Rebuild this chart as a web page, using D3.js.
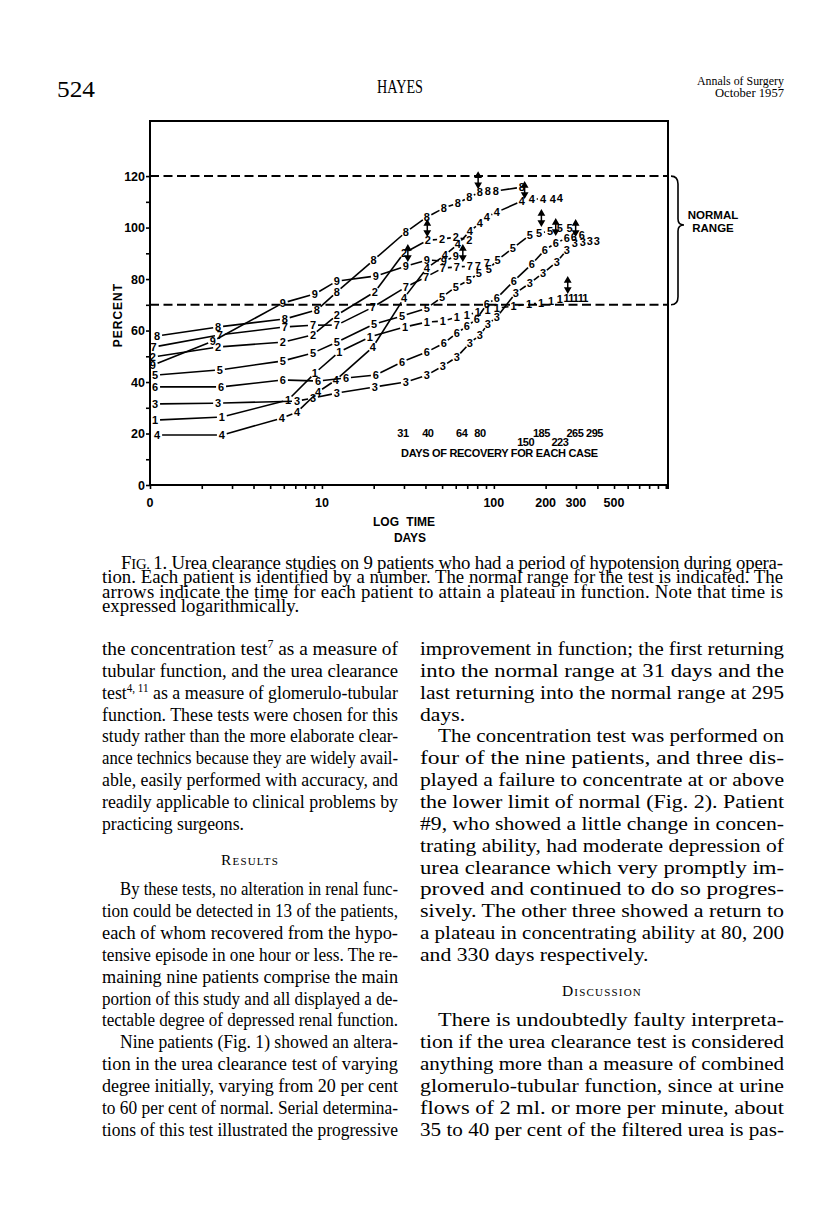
<!DOCTYPE html>
<html><head><meta charset="utf-8">
<script src="https://cdn.jsdelivr.net/npm/d3@7"></script>
<style>body{margin:0;background:#fff}svg{display:block}</style>
</head><body><div id="c"></div>
<script>
// ---------------- DATA ----------------
const patientIds = ["1","2","3","4","5","6","7","8","9"];
// [day, percent of normal urea clearance]
const patient1 = [[1.07,25.2],[2.62,26.4],[6.35,33.0],[9.1,43.5],[12.6,51.7],[19.0,57.5],[30.4,61.4],[40.8,63.3],[50.5,63.7],[60.9,65.2],[69.7,66.0],[80.7,67.2],[92,68.0],[104,68.7],[130,69.5],[160,70.3],[188,70.7],[215,71.5],[242,72.2],[265,72.6],[282,72.6],[300,72.6],[320,72.6],[340,72.6]];
const patient2 = [[1.04,49.7],[2.49,53.6],[5.93,55.5],[8.87,58.3],[12.2,66.0],[20.3,75.0],[30.0,90.1],[41.3,95.1],[50.0,95.5],[60.0,96.3],[72.0,95.1]];
const patient3 = [[1.07,31.5],[2.49,31.8],[7.16,32.6],[8.87,33.8],[12.2,35.7],[20.3,38.1],[30.8,40.0],[40.8,42.7],[50.5,46.2],[60.9,49.7],[72.5,55.1],[82.9,58.3],[92.3,62.5],[104,65.2],[134,74.6],[162,78.4],[193,82.3],[232,86.6],[266,91.3],[296,94.0],[329,94.4],[361,94.8],[397,94.8]];
const patient4 = [[1.1,19.4],[2.62,19.4],[5.85,26.0],[7.16,28.3],[9.48,36.1],[12.06,40.8],[19.8,53.6],[30.0,72.6],[40.8,84.3],[51.9,89.3],[61.8,93.6],[72.5,98.6],[82.9,101.7],[91,104.1],[104,106.0],[145.5,110.3],[166,111.1],[193,111.1],[220,111.1],[242,111.5]];
const patient5 = [[1.07,42.7],[2.55,44.7],[5.93,48.2],[8.87,51.3],[12.2,55.5],[20.1,62.5],[29.2,65.6],[40.8,68.7],[49.9,73.0],[60.1,76.9],[71.6,79.6],[81.8,82.3],[93.5,83.9],[105,87.4],[129,92.0],[162,97.1],[183,97.9],[212,98.6],[242,99.8],[276,99.8]];
const patient6 = [[1.07,38.1],[2.59,38.1],[5.93,40.8],[9.48,40.4],[13.8,41.6],[20.6,42.7],[29.2,47.8],[40.8,51.7],[51.2,55.1],[60.9,59.0],[69.7,61.7],[79.6,64.5],[91,70.3],[104,72.6],[130.6,79.2],[166,85.8],[198,91.3],[229,94.0],[266,95.9],[292,96.3],[325,97.1]];
const patient7 = [[1.05,53.6],[2.55,58.3],[6.09,61.4],[8.87,62.1],[12.2,62.1],[19.8,69.1],[30.8,76.9],[40.3,80.8],[50.5,84.3],[60.9,84.7],[72.5,85.0],[80.7,85.0],[91,86.2]];
const patient8 = [[1.1,57.9],[2.49,61.4],[6.09,64.5],[9.35,68.0],[12.2,75.0],[20.0,87.4],[30.8,98.3],[40.8,104.1],[51.2,107.6],[61.8,109.5],[72.0,111.8],[82.9,113.8],[92.3,114.2],[102.7,114.2],[145.5,115.7]];
const patient9 = [[1.04,46.6],[2.32,55.9],[5.93,70.7],[9.1,74.2],[12.2,79.2],[20.6,81.2],[30.8,85.0],[40.8,87.4],[51.2,87.0],[60.1,88.9]];

// plateau arrows [day, percent]
const plateauArrows = [[31.6,90.1],[41,99.8],[66,90.1],[81,118.4],[151,114.6],[189,103.7],[229,100.2],[299,99.8],[269,77.7]];

// normal range limits (percent)
const normalRange = [70,120];
const braceTipPct = 101;

// recovery-day annotation: label, day where printed, row
const recoveryLabels = ["31","40","64","80","150","185","223","265","295"];
const recoveryLabelDays = [29.6,41.3,65,83,153,189,242,296,385];
const recoveryLabelRows = [0,0,0,0,1,0,1,0,0];

const yTickValues = [0,10,20,30,40,50,60,70,80,90,100,110,120];
const yTickLabels = ["0","","20","","40","","60","","80","","100","","120"];
const xTickValues = [1,2,3,4,5,6,7,8,9,10,20,30,40,50,60,70,80,90,100,200,300,400,500,600,700,800,900,1000];
const xLabelValues = [1,10,100,200,300,500];
const xLabelTexts = ["0","10","100","200","300","500"];

// ---------------- PAGE TEXT ----------------
const headerPage = "524";
const headerAuthor = "HAYES";
const headerJournal = ["Annals of Surgery","October 1957"];

const captionLines = [
 "1. Urea clearance studies on 9 patients who had a period of hypotension during opera-",
 "tion. Each patient is identified by a number. The normal range for the test is indicated. The",
 "arrows indicate the time for each patient to attain a plateau in function. Note that time is",
 "expressed logarithmically.|"
];
const leftColumn = [
 "the concentration test^7^ as a measure of",
 "tubular function, and the urea clearance",
 "test^4, 11^ as a measure of glomerulo-tubular",
 "function. These tests were chosen for this",
 "study rather than the more elaborate clear-",
 "ance technics because they are widely avail-",
 "able, easily performed with accuracy, and",
 "readily applicable to clinical problems by",
 "practicing surgeons.|",
 "@Results",
 ">By these tests, no alteration in renal func-",
 "tion could be detected in 13 of the patients,",
 "each of whom recovered from the hypo-",
 "tensive episode in one hour or less. The re-",
 "maining nine patients comprise the main",
 "portion of this study and all displayed a de-",
 "tectable degree of depressed renal function.",
 ">Nine patients (Fig. 1) showed an altera-",
 "tion in the urea clearance test of varying",
 "degree initially, varying from 20 per cent",
 "to 60 per cent of normal. Serial determina-",
 "tions of this test illustrated the progressive"
];
const rightColumn = [
 "improvement in function; the first returning",
 "into the normal range at 31 days and the",
 "last returning into the normal range at 295",
 "days.|",
 ">The concentration test was performed on",
 "four of the nine patients, and three dis-",
 "played a failure to concentrate at or above",
 "the lower limit of normal (Fig. 2). Patient",
 "#9, who showed a little change in concen-",
 "trating ability, had moderate depression of",
 "urea clearance which very promptly im-",
 "proved and continued to do so progres-",
 "sively. The other three showed a return to",
 "a plateau in concentrating ability at 80, 200",
 "and 330 days respectively.|",
 "@Discussion",
 ">There is undoubtedly faulty interpreta-",
 "tion if the urea clearance test is considered",
 "anything more than a measure of combined",
 "glomerulo-tubular function, since at urine",
 "flows of 2 ml. or more per minute, about",
 "35 to 40 per cent of the filtered urea is pas-"
];

// ---------------- DRAW ----------------
const W = 816, H = 1224;
const svg = d3.select("#c").append("svg").attr("width", W).attr("height", H);
svg.append("rect").attr("width", W).attr("height", H).attr("fill", "#fff");

const SANS = "'Liberation Sans', Arial, sans-serif";
const SERIF = "'Liberation Serif', 'Times New Roman', serif";

const x = d3.scaleLog().domain([1, 1030]).range([150, 668]);
const y = d3.scaleLinear().domain([0, 141.4]).range([485, 121]);

const chart = svg.append("g");

// frame
const [x0, x1] = x.range();
chart.append("path")
  .attr("d", `M${x0},${y(0)}V${y.range()[1]}H${x1}V${y(0) + 4}`)
  .attr("fill", "none").attr("stroke", "#000").attr("stroke-width", 2);

// y axis
const yAxis = chart.append("g").attr("transform", `translate(${x0},0)`)
  .call(d3.axisLeft(y).tickValues(yTickValues).tickSize(4).tickPadding(1)
    .tickFormat((d, i) => yTickLabels[i]));
yAxis.select(".domain").remove();
yAxis.selectAll("line").attr("stroke-width", 1.6);
yAxis.selectAll("text").attr("font-family", SANS).attr("font-size", 12.5)
  .attr("font-weight", "bold").attr("fill", "#000");

// x axis
const xAxis = chart.append("g").attr("transform", `translate(0,${y(0)})`)
  .call(d3.axisBottom(x).tickValues(xTickValues).tickSize(4).tickFormat(""));
xAxis.select(".domain").attr("stroke-width", 2).attr("d", `M${x0},0H${x1}`);
xAxis.selectAll("line").attr("stroke-width", 1.6);
chart.append("g").selectAll("text").data(xLabelValues).join("text")
  .attr("x", d => x(d)).attr("y", y(0) + 22)
  .attr("text-anchor", "middle").attr("font-family", SANS).attr("font-size", 12.5)
  .attr("font-weight", "bold").text((d, i) => xLabelTexts[i]);

// axis titles
chart.append("text").attr("transform", `translate(122,${y(66)}) rotate(-90)`)
  .attr("text-anchor", "middle").attr("font-family", SANS).attr("font-size", 12)
  .attr("font-weight", "bold").attr("letter-spacing", 1).text("PERCENT");
chart.append("text").attr("x", 404).attr("y", 526).attr("text-anchor", "middle")
  .attr("font-family", SANS).attr("font-size", 12).attr("font-weight", "bold")
  .attr("word-spacing", 4).text("LOG TIME");
chart.append("text").attr("x", 410).attr("y", 542).attr("text-anchor", "middle")
  .attr("font-family", SANS).attr("font-size", 12).attr("font-weight", "bold").text("DAYS");

// normal range dashed lines
chart.selectAll("line.nr").data(normalRange).join("line").attr("class", "nr")
  .attr("x1", x0).attr("x2", x1).attr("y1", d => y(d)).attr("y2", d => y(d))
  .attr("stroke", "#000").attr("stroke-width", 2).attr("stroke-dasharray", "9,4.5");

// brace
{
  const yT = y(normalRange[1]), yB = y(normalRange[0]), yM = y(braceTipPct);
  const bx0 = x1 + 3, bx1 = x1 + 10, bx2 = x1 + 16;
  chart.append("path")
    .attr("d", `M${bx0},${yT} Q${bx1},${yT} ${bx1},${yT + 8} V${yM - 6} Q${bx1},${yM} ${bx2},${yM} Q${bx1},${yM} ${bx1},${yM + 6} V${yB - 8} Q${bx1},${yB} ${bx0},${yB}`)
    .attr("fill", "none").attr("stroke", "#000").attr("stroke-width", 1.6);
  chart.append("text").attr("x", x1 + 45).attr("y", yM - 6).attr("text-anchor", "middle")
    .attr("font-family", SANS).attr("font-size", 11.5).attr("font-weight", "bold").text("NORMAL");
  chart.append("text").attr("x", x1 + 45).attr("y", yM + 7).attr("text-anchor", "middle")
    .attr("font-family", SANS).attr("font-size", 11.5).attr("font-weight", "bold").text("RANGE");
}

// series
const series = [patient1, patient2, patient3, patient4, patient5, patient6, patient7, patient8, patient9];
const GAP = 5;
series.forEach((pts, i) => {
  const P = pts.map(d => [x(d[0]), y(d[1])]);
  const segs = [];
  for (let k = 0; k < P.length - 1; k++) {
    const [ax, ay] = P[k], [bx, by] = P[k + 1];
    const dx = bx - ax, dy = by - ay, L = Math.hypot(dx, dy);
    if (L <= 2 * GAP + 1) continue;
    const ux = dx / L, uy = dy / L;
    segs.push([ax + ux * GAP, ay + uy * GAP, bx - ux * GAP, by - uy * GAP]);
  }
  const g = chart.append("g");
  g.selectAll("line").data(segs).join("line")
    .attr("x1", d => d[0]).attr("y1", d => d[1]).attr("x2", d => d[2]).attr("y2", d => d[3])
    .attr("stroke", "#000").attr("stroke-width", 1.6);
  g.selectAll("text").data(pts).join("text")
    .attr("x", d => x(d[0])).attr("y", d => y(d[1]) + 4)
    .attr("text-anchor", "middle").attr("font-family", SANS).attr("font-size", 11)
    .attr("font-weight", "bold").text(patientIds[i]);
});

// plateau arrows
chart.append("g").selectAll("path").data(plateauArrows).join("path")
  .attr("d", d => {
    const cx = x(d[0]), cy = y(d[1]);
    return `M${cx},${cy - 5}V${cy + 5}M${cx - 2.6},${cy - 3}L${cx},${cy - 7.5}L${cx + 2.6},${cy - 3}ZM${cx - 2.6},${cy + 3}L${cx},${cy + 7.5}L${cx + 2.6},${cy + 3}Z`;
  })
  .attr("stroke", "#000").attr("stroke-width", 1.5).attr("fill", "#000");

// recovery days annotation
chart.append("g").selectAll("text").data(recoveryLabels).join("text")
  .attr("x", (d, i) => x(recoveryLabelDays[i]))
  .attr("y", (d, i) => 437 + recoveryLabelRows[i] * 9)
  .attr("text-anchor", "middle").attr("font-family", SANS).attr("font-size", 11)
  .attr("font-weight", "bold").attr("letter-spacing", -0.5).text(d => d);
chart.append("text").attr("x", 401).attr("y", 457).attr("textLength", 197)
  .attr("lengthAdjust", "spacing").attr("font-family", SANS).attr("font-size", 11)
  .attr("font-weight", "bold").text("DAYS OF RECOVERY FOR EACH CASE");

// ---------------- HEADER ----------------
svg.append("text").attr("x", 57).attr("y", 97).attr("font-family", SERIF).attr("font-size", 24)
  .attr("textLength", 38).attr("lengthAdjust", "spacingAndGlyphs").text(headerPage);
svg.append("text").attr("x", 400).attr("y", 93).attr("text-anchor", "middle").attr("font-family", SERIF)
  .attr("font-size", 18).attr("textLength", 46).attr("lengthAdjust", "spacingAndGlyphs").text(headerAuthor);
svg.append("text").attr("x", 784).attr("y", 85).attr("text-anchor", "end").attr("font-family", SERIF)
  .attr("font-size", 13).attr("textLength", 87).attr("lengthAdjust", "spacingAndGlyphs").text(headerJournal[0]);
svg.append("text").attr("x", 784).attr("y", 97).attr("text-anchor", "end").attr("font-family", SERIF)
  .attr("font-size", 13).attr("textLength", 69).attr("lengthAdjust", "spacingAndGlyphs").text(headerJournal[1]);

// ---------------- TEXT BLOCKS ----------------
function addRich(textSel, str) {
  const parts = str.split("^");
  parts.forEach((p, i) => {
    if (!p) return;
    const ts = textSel.append("tspan").text(p);
    if (i % 2 === 1) ts.attr("font-size", "0.62em").attr("baseline-shift", "super");
  });
}

function buildBlock(lines, opts) {
  const g = svg.append("g").attr("font-family", SERIF).attr("fill", "#000");
  const items = [];
  let k = 0;
  lines.forEach((raw, idx) => {
    if (raw.startsWith("@")) {
      g.append("text").attr("x", opts.x + opts.w / 2).attr("y", opts.base + (k + 0.6) * opts.pitch)
        .attr("text-anchor", "middle").attr("font-size", opts.fs * 0.8)
        .attr("letter-spacing", 1.2).style("font-variant", "small-caps").text(raw.slice(1));
      k += 2;
      return;
    }
    let s = raw, indent = 0, last = false;
    if (s.startsWith(">")) { indent = opts.indent; s = s.slice(1); }
    if (s.endsWith("|")) { last = true; s = s.slice(0, -1); }
    if (opts.firstIndent && idx === 0) indent = opts.firstIndent;
    const t = g.append("text").attr("x", opts.x + indent).attr("y", opts.base + k * opts.pitch)
      .attr("font-size", opts.fs);
    if (opts.prefix && idx === 0) {
      t.append("tspan").text("F");
      t.append("tspan").attr("font-size", opts.fs * 0.78).text("IG. ");
    }
    addRich(t, s);
    items.push({ t, target: opts.w - indent, last });
    k += 1;
  });
  return { g, items, adjust: opts.adjust || "spacing" };
}
function fitBlocks(blocks) {
  const ratios = [];
  blocks.forEach(b => b.items.filter(d => !d.last)
    .forEach(d => ratios.push(d.target / d.t.node().getComputedTextLength())));
  const r = d3.median(ratios) || 1;
  blocks.forEach(b => {
    b.g.selectAll("text").each(function () {
      const el = d3.select(this);
      el.attr("font-size", +el.attr("font-size") * r);
    });
    b.g.selectAll("tspan").filter(function () { const f = this.getAttribute("font-size"); return f && !f.endsWith("em"); })
      .each(function () { const el = d3.select(this); el.attr("font-size", +el.attr("font-size") * r); });
    // local horizontal scale for this block (keeps a common type size across columns)
    const local = d3.median(b.items.filter(d => !d.last), d => d.target / d.t.node().getComputedTextLength()) || 1;
    b.items.forEach(d => {
      if (!d.last) d.t.attr("textLength", d.target).attr("lengthAdjust", b.adjust);
      else if (b.adjust === "spacingAndGlyphs") {
        const L = d.t.node().getComputedTextLength() * local;
        d.t.attr("textLength", L).attr("lengthAdjust", "spacingAndGlyphs");
      }
    });
  });
}

fitBlocks([buildBlock(captionLines, { x: 102, w: 681, base: 569, pitch: 14.4, fs: 12.5, indent: 19, firstIndent: 19, prefix: true })]);
fitBlocks([
  buildBlock(leftColumn, { x: 102, w: 296, base: 655, pitch: 21.85, fs: 16, indent: 18, adjust: "spacingAndGlyphs" }),
  buildBlock(rightColumn, { x: 420, w: 364, base: 655, pitch: 21.85, fs: 16, indent: 18, adjust: "spacingAndGlyphs" })
]);
</script>
</body></html>
